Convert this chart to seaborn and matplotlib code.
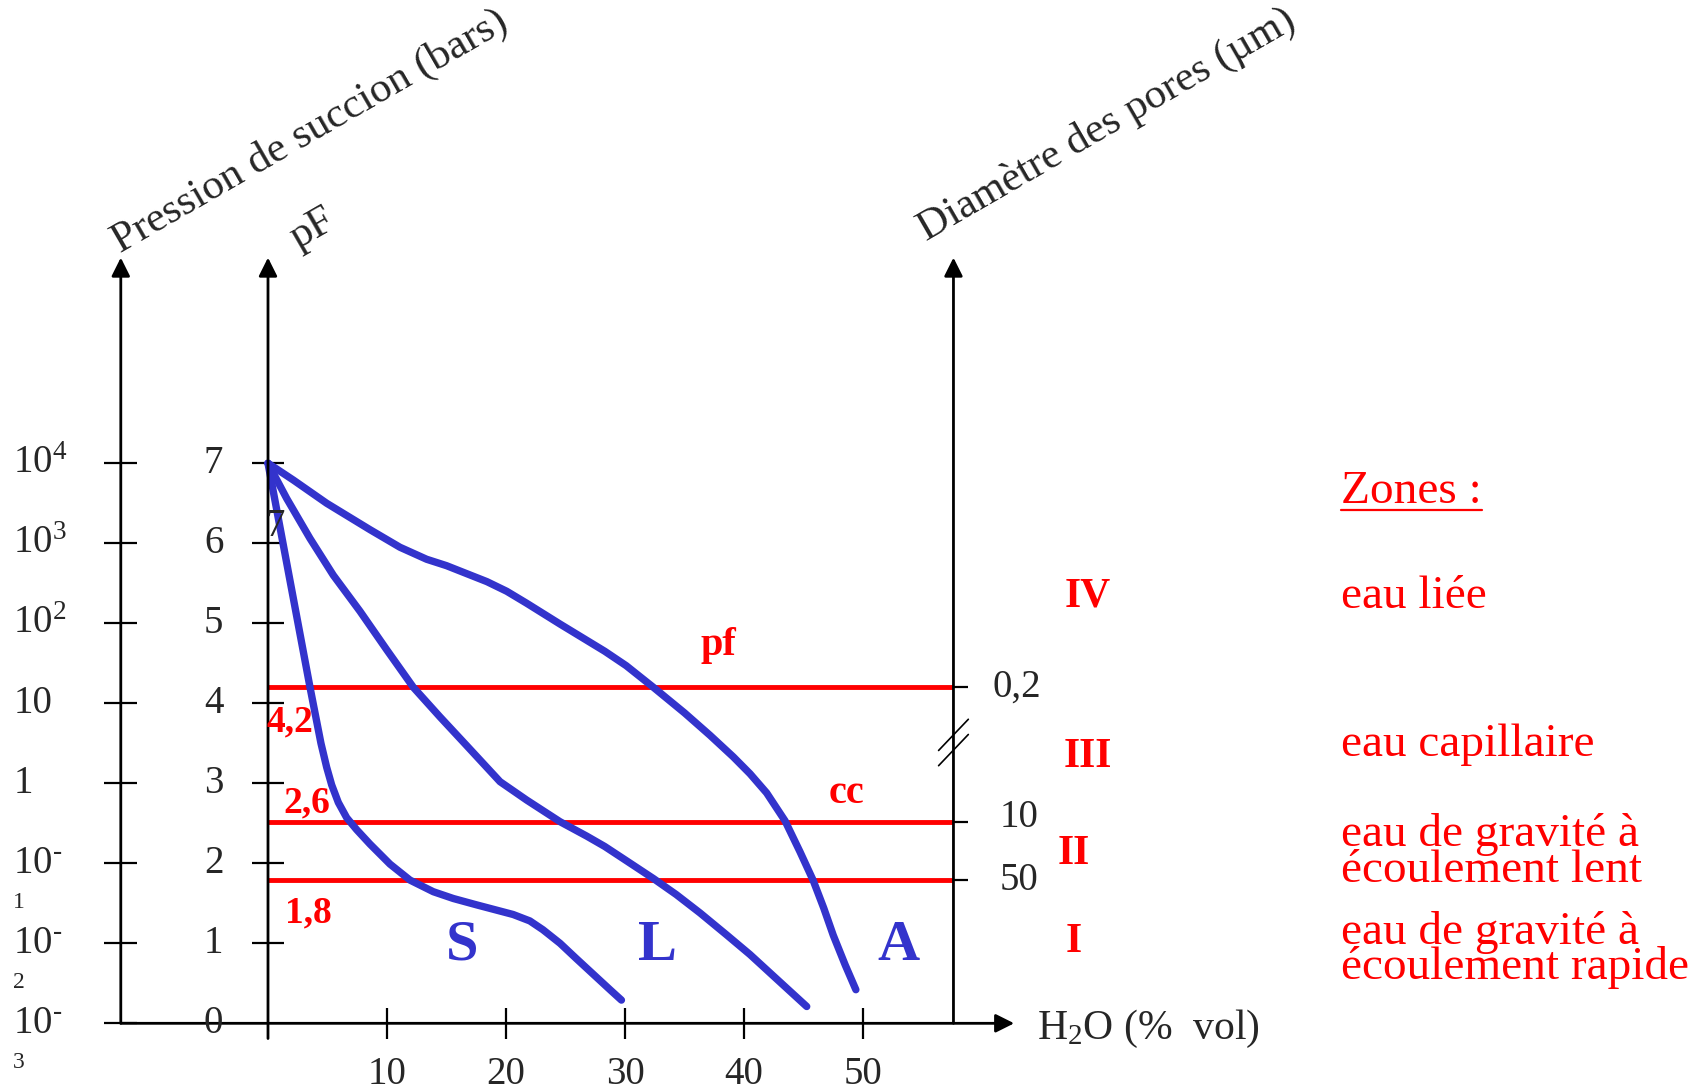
import matplotlib
matplotlib.use("Agg")
from matplotlib import pyplot as plt
import pandas as pd
import seaborn as sns

sable_x = [0, 3.53, 4.45, 4.93, 5.35, 5.91, 6.61, 7.45, 8.57, 10.25, 11.93, 13.89, 15.57, 17.54,
           20.6, 22.0, 23.1, 24.54, 25.9, 28.74, 29.7]
sable_pf = [7.0, 4.20, 3.50, 3.20, 2.98, 2.76, 2.57, 2.42, 2.24, 1.99, 1.79, 1.645, 1.56, 1.48,
            1.36, 1.28, 1.17, 1.00, 0.81, 0.42, 0.29]

limon_x = [0, 1.57, 3.53, 5.49, 7.73, 9.97, 12.21, 14.45, 16.7, 19.5, 21.74, 24.54, 26.78, 28.3,
           30.14, 32.38, 34.3, 36.3, 38.5, 40.5, 42.7, 45.27]
limon_pf = [7.0, 6.56, 6.06, 5.60, 5.15, 4.67, 4.20, 3.83, 3.47, 3.02, 2.79, 2.52, 2.34, 2.21,
            2.03, 1.81, 1.61, 1.38, 1.11, 0.86, 0.56, 0.21]

argile_x = [0, 2.13, 4.93, 8.57, 11.09, 13.33, 15.0, 16.7, 18.4, 20.06, 21.74, 24.54, 28.3, 30.1,
            32.38, 35.0, 37.14, 39.1, 40.5, 41.9, 43.45, 44.7, 45.8, 46.7, 47.5, 48.5, 49.4]
argile_pf = [7.0, 6.79, 6.50, 6.17, 5.95, 5.80, 5.72, 5.62, 5.52, 5.40, 5.25, 4.99, 4.65, 4.47,
             4.20, 3.88, 3.60, 3.33, 3.12, 2.88, 2.53, 2.145, 1.79, 1.44, 1.10, 0.73, 0.42]

sol_labels = ["S", "L", "A"]
sol_label_x = [16.3, 32.7, 53.0]

pf_ticks = [0, 1, 2, 3, 4, 5, 6, 7]
bars_labels = [r"10$^{\text{-}}$", r"10$^{\text{-}}$", r"10$^{\text{-}}$", "1", "10",
               r"$\mathrm{10^{2}}$", r"$\mathrm{10^{3}}$", r"$\mathrm{10^{4}}$"]
bars_sub = ["3", "2", "1", "", "", "", "", ""]
h2o_ticks = [10, 20, 30, 40, 50]

seuils_pf = [4.2, 2.52, 1.79]
seuils_labels = ["4,2", "2,6", "1,8"]
diam_labels = ["0,2", "10", "50"]

zones = ["IV", "III", "II", "I"]
zones_y = [5.33, 3.33, 2.12, 1.02]
zones_txt = ["eau liée", "eau capillaire", "eau de gravité à\nécoulement lent",
             "eau de gravité à\nécoulement rapide"]
zones_txt_y = [5.33, 3.48, 2.135, 0.915]

BLEU = "#3333cc"
ROUGE = "#ff0000"

# position des axes (en unités du graphe)
X_BARS = -12.37
X_DIAM = 57.6
Y_TOP = 9.57
X_END = 62.7

sns.set_style("white")
plt.rcParams["font.family"] = ["Liberation Serif", "DejaVu Serif"]
plt.rcParams["mathtext.fontset"] = "custom"
plt.rcParams["mathtext.rm"] = "Liberation Serif"
plt.rcParams["mathtext.it"] = "Liberation Serif:italic"
plt.rcParams["mathtext.bf"] = "Liberation Serif:bold"

fig = plt.figure(figsize=(17.07, 10.91), dpi=100)
ax = fig.add_axes([0, 0, 1, 1])
ax.set_xlim(-22.52, 120.92)
ax.set_ylim(-0.846, 12.79)
ax.axis("off")

# axes fléchés
arrow = dict(arrowstyle="-|>", color="black", lw=2, mutation_scale=28, shrinkA=0, shrinkB=0)
ax.annotate("", xy=(X_BARS, Y_TOP), xytext=(X_BARS, 0), arrowprops=arrow)
ax.annotate("", xy=(0, Y_TOP), xytext=(0, -0.19), arrowprops=arrow)
ax.annotate("", xy=(X_DIAM, Y_TOP), xytext=(X_DIAM, 0), arrowprops=arrow)
ax.annotate("", xy=(X_END, 0), xytext=(X_BARS, 0), arrowprops=arrow)

# graduations
ax.hlines(pf_ticks, X_BARS - 1.37, X_BARS + 1.37, color="black", lw=1.6)
ax.hlines(pf_ticks[1:], -1.33, 1.33, color="black", lw=1.6)
ax.vlines(h2o_ticks, -0.19, 0.19, color="black", lw=1.6)
ax.hlines(seuils_pf, X_DIAM - 1.25, X_DIAM + 1.25, color="black", lw=1.6)
# coupure de l'axe des diamètres
ax.plot([X_DIAM - 1.25, X_DIAM + 1.25], [3.41, 3.80], color="black", lw=1.2)
ax.plot([X_DIAM - 1.25, X_DIAM + 1.25], [3.22, 3.61], color="black", lw=1.2)

for v, lab, sub in zip(pf_ticks, bars_labels, bars_sub):
    ax.text(-21.4, v, lab, fontsize=28, ha="left", va="center")
    if sub:
        ax.text(-21.4, v - 0.49, sub, fontsize=17, ha="left", va="center")
    ax.text(-3.76, v, str(v), fontsize=28, ha="right", va="center")
ax.text(0.59, 6.21, "7", fontsize=28, ha="center", va="center")

for v in h2o_ticks:
    ax.text(v, -0.64, str(v), fontsize=28, ha="center", va="center")

ax.text(64.6, -0.07, r"H$_{\mathrm{2}}$O (%  vol)", fontsize=30, ha="left", va="center")

ax.text(3.55, 11.14, "Pression de succion (bars)", fontsize=31, rotation=30,
        ha="center", va="center", rotation_mode="anchor")
ax.text(3.74, 9.93, "pF", fontsize=31, rotation=30, ha="center", va="center",
        rotation_mode="anchor")
ax.text(70.5, 11.23, "Diamètre des pores (µm)", fontsize=31, rotation=30,
        ha="center", va="center", rotation_mode="anchor")

# seuils pF (point de flétrissement, capacité au champ)
ax.hlines(seuils_pf, 0, X_DIAM, color=ROUGE, lw=3.5)
for v, lab, (lx, ly) in zip(seuils_pf, seuils_labels, [(1.85, 3.77), (3.25, 2.75), (3.39, 1.375)]):
    ax.text(lx, ly, lab, fontsize=27, color=ROUGE, fontweight="bold", ha="center", va="center")
for v, lab, ly in zip(seuils_pf, diam_labels, [4.2, 2.57, 1.78]):
    ax.text(60.9 if lab == "0,2" else 61.5, ly, lab, fontsize=28, ha="left", va="center")
ax.text(37.86, 4.72, "pf", fontsize=29, color=ROUGE, fontweight="bold", ha="center", va="center")
ax.text(48.6, 2.87, "cc", fontsize=29, color=ROUGE, fontweight="bold", ha="center", va="center")

# courbes
df = pd.concat([
    pd.DataFrame({"eau": sable_x, "pF": sable_pf, "sol": "S"}),
    pd.DataFrame({"eau": limon_x, "pF": limon_pf, "sol": "L"}),
    pd.DataFrame({"eau": argile_x, "pF": argile_pf, "sol": "A"}),
])
sns.lineplot(data=df, x="eau", y="pF", hue="sol", palette=[BLEU] * 3, estimator=None,
             sort=False, linewidth=5.3, legend=False, ax=ax, solid_joinstyle="round")
ax.set_xlabel("")
ax.set_ylabel("")
ax.axis("off")

for lab, lx in zip(sol_labels, sol_label_x):
    ax.text(lx, 0.97, lab, fontsize=42, color=BLEU, fontweight="bold", ha="center", va="center")

# zones
for z, zy in zip(zones, zones_y):
    ax.text(68.9 if len(z) > 1 and z != "II" else 67.7, zy, z, fontsize=30, color=ROUGE,
            fontweight="bold", ha="center", va="center")
titre = ax.text(90.2, 6.64, "Zones :", fontsize=34, color=ROUGE, ha="left", va="center")
for txt, ty in zip(zones_txt, zones_txt_y):
    ax.text(90.2, ty, txt, fontsize=34, color=ROUGE, ha="left", va="center", linespacing=0.77)

fig.canvas.draw()
bb = titre.get_window_extent().transformed(ax.transData.inverted())
ax.plot([bb.x0, bb.x1], [6.41, 6.41], color=ROUGE, lw=1.6)

fig.savefig("out.png", dpi=100)
